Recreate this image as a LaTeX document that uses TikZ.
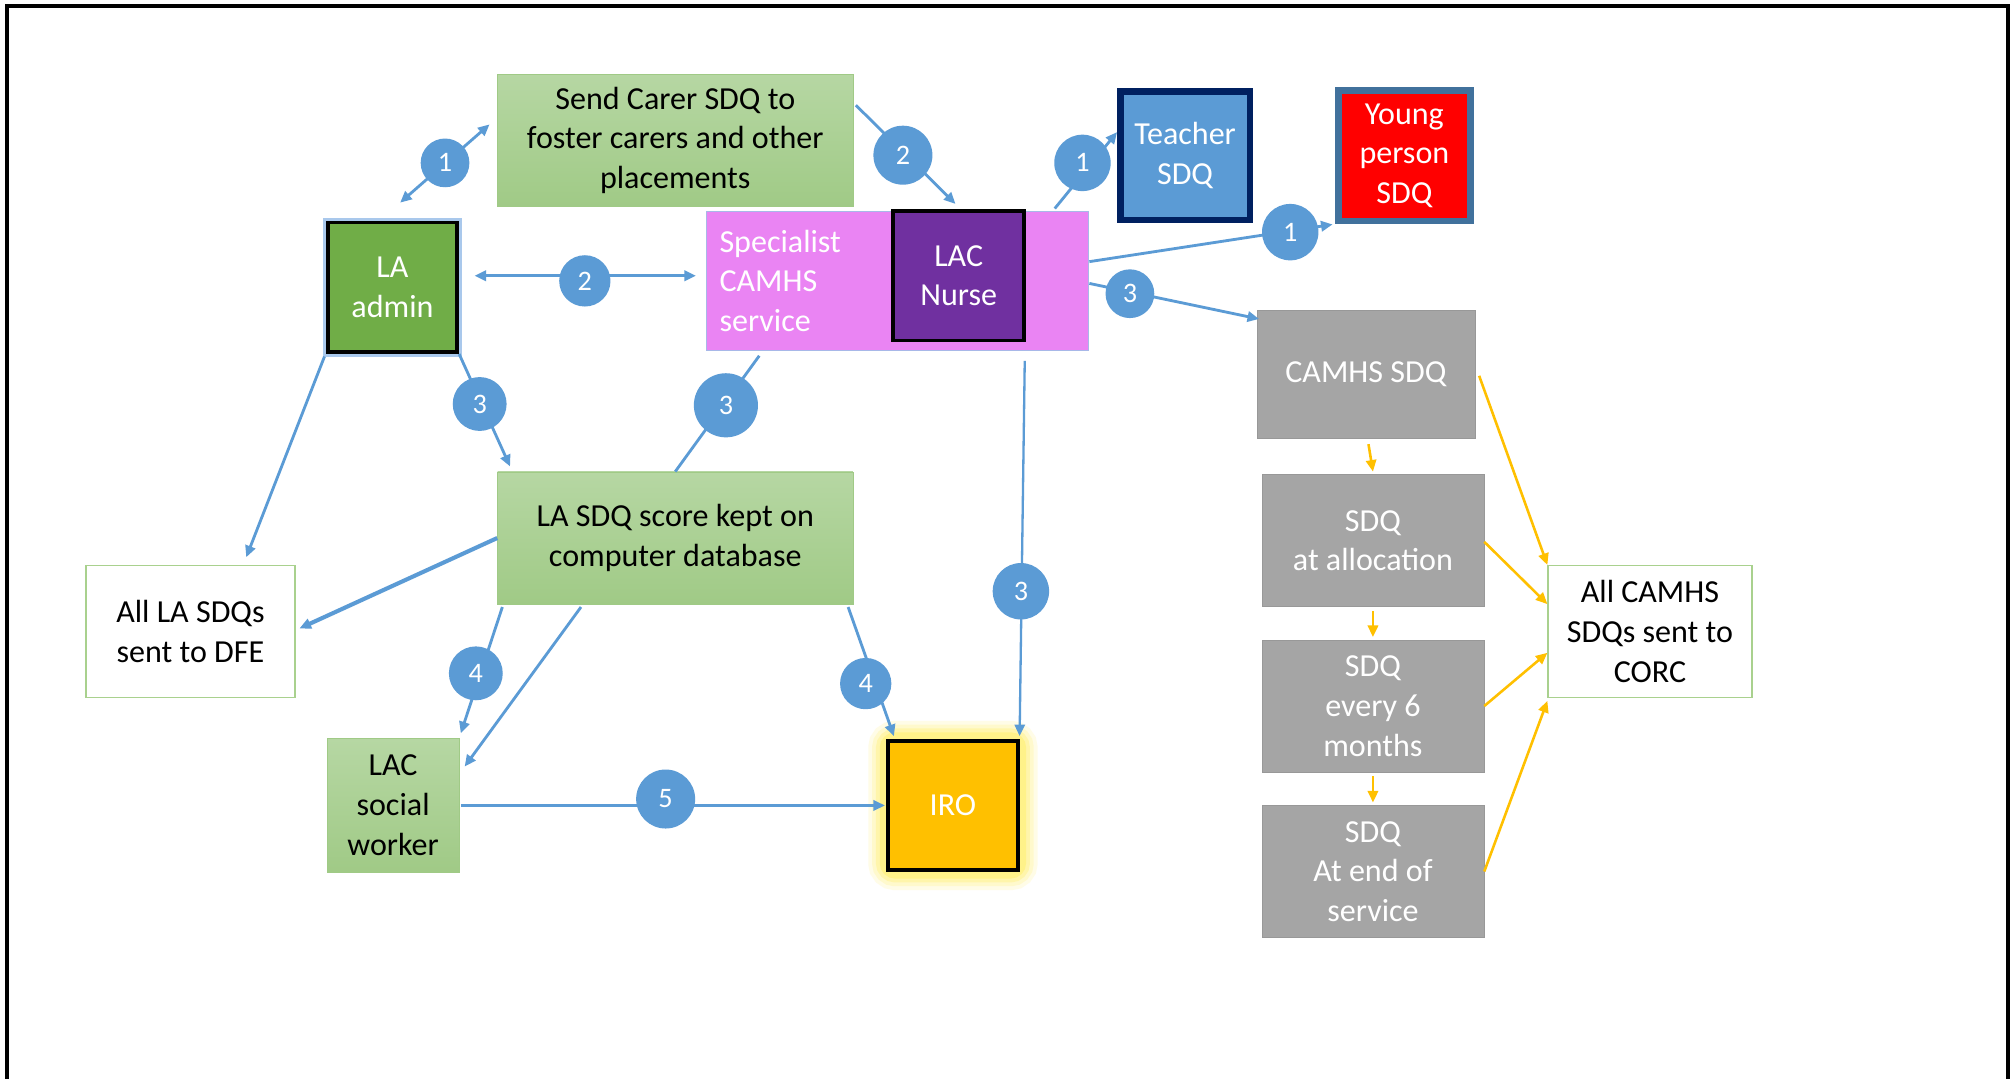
\documentclass[tikz,border=0pt]{standalone}
\usepackage{fontspec}
\setmainfont{Carlito}
\usetikzlibrary{arrows.meta,backgrounds}
\definecolor{bl}{HTML}{5B9BD5}
\definecolor{pinkbox}{HTML}{EA84F3}
\definecolor{pinkedge}{HTML}{A8B8E8}
\definecolor{purp}{HTML}{7030A0}
\definecolor{grnD}{HTML}{70AD47}
\definecolor{grnT}{HTML}{B6D7A3}
\definecolor{grnB}{HTML}{A0CA86}
\definecolor{gry}{HTML}{A5A5A5}
\definecolor{yel}{HTML}{FFC000}
\definecolor{navy}{HTML}{002060}
\definecolor{steel}{HTML}{41719C}
\definecolor{wbrd}{HTML}{A9D18E}
\definecolor{glowB}{HTML}{A9C8EC}
\definecolor{glowY}{HTML}{FFEF60}
\tikzset{
  bx/.style={inner sep=0pt, align=center, font=\fontsize{25}{31}\selectfont},
  grn/.style={bx, top color=grnT, bottom color=grnB, draw=grnB, line width=0.6pt},
  gry/.style={bx, fill=gry, draw=gry!92!black, line width=0.6pt, text=white},
  wht/.style={bx, fill=white, draw=wbrd, line width=1pt},
  num/.style={circle, fill=bl, text=white, inner sep=0pt, font=\fontsize{22}{22}\selectfont, minimum size=#1},
  num/.default=40pt,
  con/.style={draw=bl, line width=2.2pt, ->},
  con2/.style={draw=bl, line width=2.2pt, <->},
  lnk/.style={draw=bl, line width=2.2pt},
  ycon/.style={draw=yel, line width=2pt, ->},
}
\begin{document}
\begin{tikzpicture}[x=1pt,y=-1pt,>={Triangle[length=9pt,width=8pt]}]
\useasboundingbox (0,0) rectangle (1568,841);
\draw[line width=3pt] (5.5,841) -- (5.5,5) -- (1565.5,5) -- (1565.5,841);

% boxes
\node[grn, minimum width=277pt, minimum height=103pt] (carer) at (526.5,109.5)
  {Send Carer SDQ to\\foster carers and other\\placements};
\node[bx, fill=grnD, draw=black, line width=3pt, text=white, minimum width=101pt, minimum height=101pt] (admin) at (306,224) {LA\\admin};
\node[bx, fill=pinkbox, draw=pinkedge, line width=0.8pt, text=white, align=left, text width=278pt, inner xsep=10pt, minimum height=108pt] (camhs) at (700,219)
  {Specialist\\CAMHS\\service};
\node[bx, fill=purp, draw=black, line width=3pt, text=white, minimum width=102pt, minimum height=101pt] (nurse) at (747.5,215) {LAC\\Nurse};
\node[bx, fill=bl, draw=navy, line width=5pt, text=white, minimum width=101pt, minimum height=100pt] (teacher) at (924,121.5) {Teacher\\SDQ};
\node[bx, fill=red, draw=steel, line width=5pt, text=white, minimum width=103pt, minimum height=102pt] (young) at (1095,121.5) {Young\\person\\SDQ};
\node[gry, minimum width=170pt, minimum height=100pt] (csdq) at (1065,292) {CAMHS SDQ};
\node[gry, minimum width=173pt, minimum height=103pt] (alloc) at (1070.5,421.5) {SDQ\\at allocation};
\node[gry, minimum width=173pt, minimum height=103pt] (six) at (1070.5,550.5) {SDQ\\every 6\\months};
\node[gry, minimum width=173pt, minimum height=103pt] (endsdq) at (1070.5,679.5) {SDQ\\At end of\\service};
\node[wht, minimum width=159pt, minimum height=103pt] (corc) at (1286.5,492.5) {All CAMHS\\SDQs sent to\\CORC};
\node[grn, minimum width=277pt, minimum height=103pt] (db) at (526.5,419.5) {LA SDQ score kept on\\computer database};
\node[wht, minimum width=163pt, minimum height=103pt] (dfe) at (148.5,492.5) {All LA SDQs\\sent to DFE};
\node[grn, minimum width=103pt, minimum height=104pt] (sw) at (306.5,628) {LAC\\social\\worker};
\node[bx, fill=yel, draw=black, line width=3pt, text=white, minimum width=101pt, minimum height=101pt] (iro) at (743,628) {IRO};

\begin{scope}[on background layer]
  \fill[white] (0,0) rectangle (1568,841);
  \foreach \w/\o in {28/0.15,22/0.2,16/0.3,10/0.45}
    \draw[glowY, line width=\w pt, opacity=\o, rounded corners=7pt] (iro.north west) rectangle (iro.south east);
  \draw[glowB, line width=2.5pt] ([shift={(-0.8,-0.8)}]admin.north west) rectangle ([shift={(0.8,0.8)}]admin.south east);
\end{scope}

% blue connectors (straight, circles on top)
\draw[con2] ([shift={(6,-14)}]admin.north) -- ([shift={(-6,-12.5)}]carer.west);
\draw[con] ([shift={(2,-27.5)}]carer.east) -- ([shift={(-2.5,-4)}]nurse.north);
\draw[con] ([shift={(-27,-2)}]camhs.north east) -- ([shift={(0,-18.5)}]teacher.west);
\draw[con] ([shift={(0,-15)}]camhs.east) -- ([shift={(-2,0)}]young.south west);
\draw[con2] ([shift={(12,-9)}]admin.east) -- ([shift={(-8,-4)}]camhs.west);
\draw[con] ([shift={(0,2)}]camhs.east) -- ([shift={(2,7)}]csdq.north west);
\draw[con] (admin.south east) -- ([shift={(10,-4)}]db.north west);
\draw[lnk] ([shift={(-108,4)}]camhs.south) -- (db.north);
\draw[con, line width=1.8pt] ([shift={(99,8)}]camhs.south) -- ([shift={(0,-2)}]iro.north east);
\draw[con] ([shift={(4,2)}]db.south west) -- ([shift={(1,-4)}]sw.north east);
\draw[con] ([shift={(-4,2)}]db.south east) -- ([shift={(6,-2)}]iro.north west);
\draw[con] ([shift={(1,0)}]sw.east) -- ([shift={(-1,0)}]iro.west);
\draw[con] ([shift={(-1,2)}]admin.south west) -- ([shift={(43.5,-6)}]dfe.north);
\draw[con, line width=3.2pt] (db.west) -- ([shift={(3,-2.5)}]dfe.east);
\draw[con] ([shift={(-73.5,2)}]db.south) -- ([shift={(4,22)}]sw.north east);

% number circles
\node[num=38pt] (c1a) at (347,127) {1};
\node[num=46pt] (c2a) at (704,121) {2};
\node[num=44pt] (c1b) at (844,127) {1};
\node[num=44pt] (c1c) at (1006,181) {1};
\node[num=40pt] (c2b) at (456,219) {2};
\node[num=38pt] (c3a) at (881,229) {3};
\node[num=42pt] (c3b) at (374,315) {3};
\node[num=50pt] (c3c) at (566,316) {3};
\node[num=44pt] (c3d) at (796,461) {3};
\node[num=42pt] (c4a) at (371,525) {4};
\node[num=40pt] (c4b) at (675,533) {4};
\node[num=46pt] (c5) at (519,623) {5};

% yellow connectors
\draw[ycon] ([shift={(2,4)}]csdq.south) -- ([shift={(0,-2)}]alloc.north);
\draw[ycon] ([shift={(0,3)}]alloc.south) -- ([shift={(0,-2)}]six.north);
\draw[ycon] ([shift={(0,3)}]six.south) -- ([shift={(0,-2)}]endsdq.north);
\draw[ycon] ([shift={(3,1)}]csdq.east) -- (corc.north west);
\draw[ycon] ([shift={(0,1)}]alloc.east) -- ([shift={(0,-21.5)}]corc.west);
\draw[ycon] (six.east) -- ([shift={(0,16.5)}]corc.west);
\draw[ycon] (endsdq.east) -- ([shift={(0,2)}]corc.south west);
\end{tikzpicture}
\end{document}
